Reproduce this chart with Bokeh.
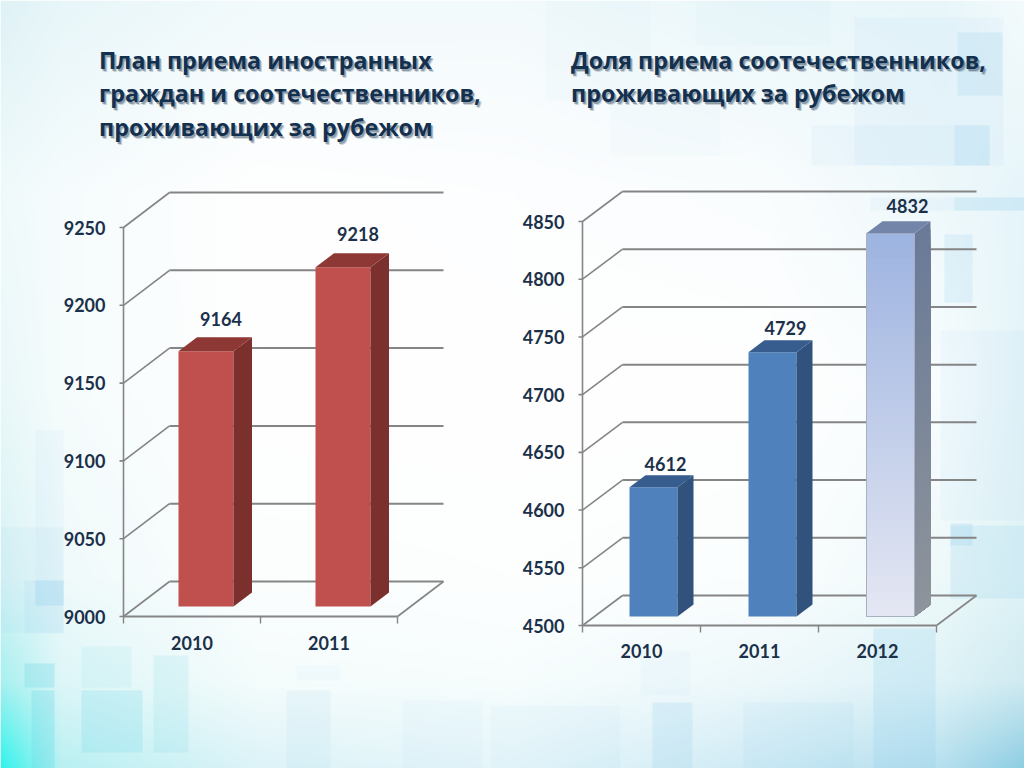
import numpy as np
from bokeh.plotting import figure
from bokeh.models import Range1d
from bokeh.core.properties import value
from bokeh.embed import file_html
from bokeh.resources import INLINE

# ---- chart data ----
left_title = ["План приема иностранных", "граждан и соотечественников,", "проживающих за рубежом"]
right_title = ["Доля приема соотечественников,", "проживающих за рубежом"]
left_years = ["2010", "2011"]
left_values = [9164, 9218]
left_ticks = [9000, 9050, 9100, 9150, 9200, 9250]
right_years = ["2010", "2011", "2012"]
right_values = [4612, 4729, 4832]
right_ticks = [4500, 4550, 4600, 4650, 4700, 4750, 4800, 4850]

TXT = "#1b3049"
GRID = "#858585"
W, H = 1024, 768
PAGE_H = 768


def Y(py):
    return PAGE_H - np.asarray(py, dtype=float)


p = figure(width=W, height=H, output_backend="svg", toolbar_location=None,
           x_range=Range1d(0, 1024), y_range=Range1d(0, 768),
           x_axis_location=None, y_axis_location=None, min_border=0)
p.outline_line_color = None
p.grid.visible = False
p.background_fill_color = "#ffffff"
p.border_fill_color = "#ffffff"

# ---- backdrop: soft colour field ----
cx = [0, 60, 256, 512, 768, 940, 1024]
cy = [0, 192, 384, 576, 680, 768]
field = [
    ["#dff2f6", "#e8f6f9", "#f2fafc", "#f3fafc", "#eaf7fa", "#e8f6fa", "#f4fbfc"],
    ["#f0fafb", "#f6fcfd", "#ffffff", "#fdfeff", "#fafdfe", "#eef8fb", "#e6f5fa"],
    ["#eaf8f9", "#f6fcfc", "#ffffff", "#ffffff", "#ffffff", "#f8fdfe", "#e4f4f8"],
    ["#d8f3f6", "#f0fafb", "#fcfefe", "#fdffff", "#fbfefe", "#eef9fa", "#dff3f6"],
    ["#a8f0f0", "#def6f8", "#f5fcfc", "#f7fdfd", "#edf8fb", "#dff3f7", "#cfeaf1"],
    ["#2ff4ec", "#b8f0f2", "#dcf3f8", "#e6f6fa", "#cdeaf5", "#b5dfee", "#8ccde3"],
]
rgb = np.array([[[int(c[i:i + 2], 16) for i in (1, 3, 5)] for c in row] for row in field], dtype=float)
xs = np.arange(0, 1024, 2)
ys = np.arange(0, 768, 2)
by_x = np.stack([[np.interp(xs, cx, rgb[r, :, ch]) for ch in range(3)] for r in range(len(cy))])
img = np.zeros((len(ys), len(xs)), dtype=np.uint32)
view = img.view(np.uint8).reshape((len(ys), len(xs), 4))
for ch in range(3):
    for j in range(len(xs)):
        view[:, j, ch] = np.interp(ys, cy, by_x[:, ch, j]).astype(np.uint8)
view[:, :, 3] = 255
p.image_rgba(image=[img[::-1]], x=0, y=0, dw=1024, dh=768)

# ---- backdrop: translucent squares (x0, y0, x1, y1, alpha) ----
squares = [
    (35, 430, 63, 605, .08), (0, 527, 63, 632, .10), (24, 580, 63, 633, .12), (35, 580, 63, 605, .22),
    (286, 690, 330, 768, .10), (402, 700, 482, 768, .05), (296, 665, 340, 680, .05), (490, 705, 620, 768, .06),
    (854, 17, 1003, 165, .07), (957, 32, 1002, 95, .20), (811, 125, 989, 165, .08), (954, 125, 989, 165, .18),
    (954, 197, 1024, 210, .26), (870, 197, 954, 210, .08), (944, 234, 972, 302, .18), (940, 330, 1024, 520, .07),
    (950, 525, 1024, 598, .20), (950, 523, 972, 545, .22), (873, 628, 935, 768, .22), (743, 702, 853, 768, .10),
    (652, 702, 692, 768, .20), (640, 650, 690, 695, .05), (545, 0, 650, 100, .04), (695, 0, 830, 45, .03),
    (610, 100, 720, 155, .03),
]
aqua = [
    (24, 663, 54, 687, .30), (31, 690, 54, 768, .30), (81, 646, 131, 687, .10), (81, 690, 142, 752, .22),
    (153, 655, 188, 752, .14),
]
sq = np.array(squares)
p.quad(left=sq[:, 0], right=sq[:, 2], top=Y(sq[:, 1]), bottom=Y(sq[:, 3]),
       fill_color="#8fcdec", fill_alpha=sq[:, 4], line_color=None)
aq = np.array(aqua)
p.quad(left=aq[:, 0], right=aq[:, 2], top=Y(aq[:, 1]), bottom=Y(aq[:, 3]),
       fill_color="#6cd6e6", fill_alpha=aq[:, 4], line_color=None)


def draw_title(lines, x, rows):
    for line, py in zip(lines, rows):
        for dx, dy, a, col in [(2.5, 3, .22, "#34495f"), (1.5, 2, .42, "#34495f")]:
            p.text([x + dx], Y([py + dy]), text=[line], text_font=value("Open Sans"), text_font_style="bold",
                   text_font_size="23.3px", text_color=col, text_alpha=a, text_baseline="middle")
        p.text([x], Y([py]), text=[line], text_font=value("Open Sans"), text_font_style="bold",
               text_font_size="23.3px", text_color="#14304f", text_baseline="middle")


def draw_chart(name, years, vals, ticks, ax_x, ax_py, k, back_dx, back_dy, step, base_off,
               bar_left, bar_w, depth_dx, depth_dy, tick_label_x, year_py, lab_dx, lab_dy, faces):
    # own value scale: the value at the front-axis plane maps to the page through this range
    v0 = ticks[0]
    p.extra_y_ranges[name] = Range1d(v0 + (ax_py - PAGE_H) / k, v0 + ax_py / k)
    px = lambda n: n / k  # pixels to value units
    n = len(years)
    right_x = ax_x + step * n
    kw = dict(y_range_name=name)
    # back wall grid, side wall diagonals
    for t in ticks:
        bv = t + px(back_dy)
        p.line([ax_x + back_dx, right_x + back_dx], [bv, bv], line_color=GRID, line_width=2, **kw)
        p.line([ax_x - 4, ax_x, ax_x + back_dx], [t, t, bv], line_color=GRID, line_width=1.6, **kw)
        p.text([tick_label_x], [t], text=[str(t)], text_font=value("Lato"), text_font_style="bold",
               text_font_size="18px", text_color=TXT, text_align="right", text_baseline="middle", **kw)
    # front axis, floor edges
    p.line([ax_x, ax_x], [ticks[0], ticks[-1]], line_color=GRID, line_width=1.6, **kw)
    p.line([ax_x, right_x], [v0, v0], line_color=GRID, line_width=2, **kw)
    p.line([right_x, right_x + back_dx], [v0, v0 + px(back_dy)], line_color=GRID, line_width=1.6, **kw)
    for i in range(n + 1):
        x = ax_x + step * i
        p.line([x, x], [v0, v0 - px(7)], line_color=GRID, line_width=1.4, **kw)
    # bars
    base = v0 + px(base_off)
    for i, (yr, v) in enumerate(zip(years, vals)):
        x0 = bar_left[i]
        x1 = x0 + bar_w
        top = v + px(base_off)
        f = faces[i]
        if f["grad"] is None:
            p.quad(left=[x0], right=[x1], bottom=[base], top=[top], fill_color=f["front"], line_color=None, **kw)
            p.patch([x1, x1 + depth_dx, x1 + depth_dx, x1],
                    [base, base + px(depth_dy), top + px(depth_dy), top], fill_color=f["side"], line_color=None, **kw)
        else:
            c0 = np.array(f["grad"][0], dtype=float)
            c1 = np.array(f["grad"][1], dtype=float)
            s0 = np.array(f["sgrad"][0], dtype=float)
            s1 = np.array(f["sgrad"][1], dtype=float)
            m = 48
            edges = np.linspace(top, base, m + 1)
            # each strip runs down to the base, so later strips paint over earlier ones with no seams
            for j in range(m):
                t = j / (m - 1)
                col = "#%02x%02x%02x" % tuple(int(a) for a in c0 + (c1 - c0) * t)
                scol = "#%02x%02x%02x" % tuple(int(a) for a in s0 + (s1 - s0) * t)
                p.quad(left=[x0], right=[x1], top=[edges[j]], bottom=[base], fill_color=col, line_color=None, **kw)
                p.patch([x1, x1 + depth_dx, x1 + depth_dx, x1],
                        [base, base + px(depth_dy), edges[j] + px(depth_dy), edges[j]],
                        fill_color=scol, line_color=None, **kw)
            p.quad(left=[x0], right=[x1], bottom=[base], top=[top], fill_color=None,
                   line_color="#a9b0c0", line_width=1, **kw)
        p.patch([x0, x1, x1 + depth_dx, x0 + depth_dx],
                [top, top, top + px(depth_dy), top + px(depth_dy)], fill_color=f["top"], line_color=None, **kw)
        # value label and category label
        p.text([x0 + bar_w / 2 + lab_dx[i]], [top + px(depth_dy + lab_dy[i])], text=[str(v)], text_font=value("Lato"),
               text_font_style="bold", text_font_size="18px", text_color=TXT, text_align="center",
               text_baseline="middle", **kw)
        p.text([ax_x + step * (i + .5)], Y([year_py]), text=[yr], text_font=value("Lato"), text_font_style="bold",
               text_font_size="18px", text_color=TXT, text_align="center", text_baseline="middle")


draw_title(left_title, 98.5, [59.5, 92.5, 126.5])
draw_title(right_title, 570.5, [59.5, 92.5])

red = dict(front="#c0504d", side="#7c302d", top="#8e3835", grad=None)
blue = dict(front="#4f81bd", side="#30527d", top="#365d8d", grad=None)
fade = dict(front=None, side=None, top="#7386aa",
            grad=((158, 180, 225), (228, 231, 243)), sgrad=((106, 122, 152), (142, 148, 155)))

draw_chart("left", left_years, left_values, left_ticks, 123, 616, 389 / 250, 46, 35, 137, 10,
           [178, 315], 55, 18.5, 14, 105, 642, [15, 15], [18, 19], [red, red])
draw_chart("right", right_years, right_values, right_ticks, 582, 625, 404 / 350, 40, 30, 118, 9,
           [629, 748, 866], 48, 16, 12, 564, 650, [12, 13, 17], [11, 12, 15], [blue, blue, fade])

open("out.html", "w").write(file_html(p, INLINE))
